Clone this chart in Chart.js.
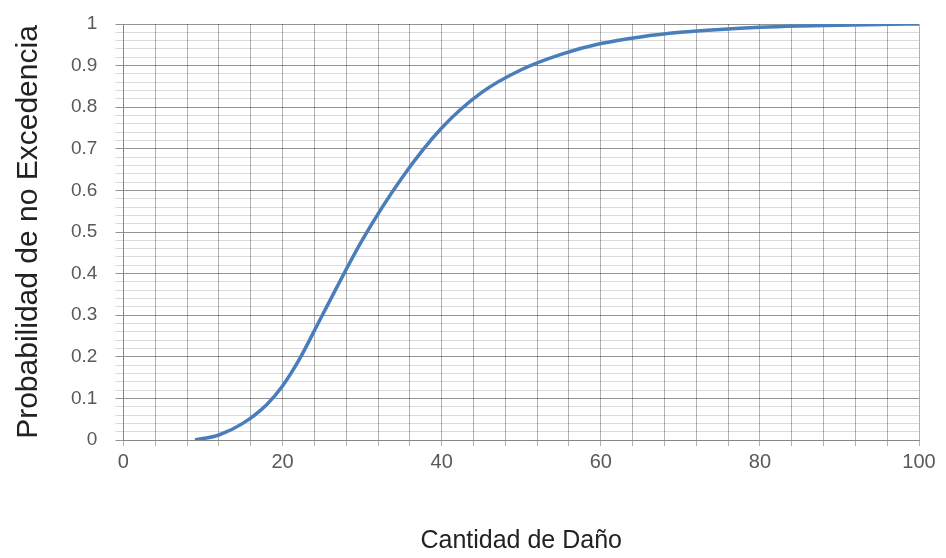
<!DOCTYPE html>
<html>
<head>
<meta charset="utf-8">
<script src="https://cdn.jsdelivr.net/npm/chart.js@4"></script>
<style>
  html, body { margin: 0; padding: 0; background: #fff; }
  #wrap { width: 946px; height: 558px; }
</style>
</head>
<body>
<div id="wrap"><canvas id="c" width="946" height="558"></canvas></div>
<script>
const DANO = [9, 12, 15, 18, 20, 22, 25, 30, 35, 40, 45, 50, 55, 60, 65, 70, 75, 80, 85, 90, 95, 100];
const PROB = [0, 0.012, 0.04, 0.085, 0.13, 0.19, 0.30, 0.48, 0.63, 0.75, 0.835, 0.89, 0.927, 0.953, 0.969, 0.98, 0.987, 0.992, 0.995, 0.997, 0.999, 1.0];
const X_LABELS = [0, 20, 40, 60, 80, 100];
const LINE = '#4a7ebb', TK = '#595959', FONT = '"Liberation Sans", Arial, sans-serif';

const pts = DANO.map((x, i) => ({ x, y: PROB[i] }));

new Chart(document.getElementById('c'), {
  type: 'scatter',
  data: {
    datasets: [{
      data: pts, showLine: true, borderColor: LINE, borderWidth: 3.5,
      pointRadius: 0, cubicInterpolationMode: 'monotone', fill: false
    }]
  },
  options: {
    responsive: false, animation: false,
    layout: { autoPadding: false, padding: { top: 0, right: 27, bottom: 2, left: 11 } },
    plugins: { legend: { display: false }, tooltip: { enabled: false } },
    scales: {
      x: {
        type: 'linear', min: 0, max: 100,
        ticks: {
          stepSize: 4, autoSkip: false, maxRotation: 0, color: TK, padding: 4,
          font: { family: FONT, size: 20 },
          callback: v => X_LABELS.includes(v) ? v : ''
        },
        grid: { color: 'rgba(0,0,0,0.3)', tickLength: 6, drawTicks: true },
        border: { color: '#888' },
        title: { display: true, text: 'Cantidad de Daño', color: '#222', font: { family: FONT, size: 25 }, padding: { top: 48, bottom: 0 } }
      },
      y: {
        min: 0, max: 1,
        afterFit: s => { s.paddingTop = 24; },
        ticks: {
          stepSize: 0.02, autoSkip: false, color: TK, padding: 18,
          font: { family: FONT, size: 19 },
          callback: v => { const r = Math.round(v * 50); return r % 5 === 0 ? String(Math.round(v * 10) / 10) : ''; }
        },
        grid: {
          color: c => Math.round(c.tick.value * 50) % 5 === 0 ? 'rgba(0,0,0,0.42)' : 'rgba(0,0,0,0.14)',
          tickLength: 8
        },
        border: { color: '#888' },
        title: { display: true, text: 'Probabilidad de no Excedencia', color: '#222', font: { family: FONT, size: 30 }, padding: { top: 0, bottom: 6 } }
      }
    }
  }
});
</script>
</body>
</html>
